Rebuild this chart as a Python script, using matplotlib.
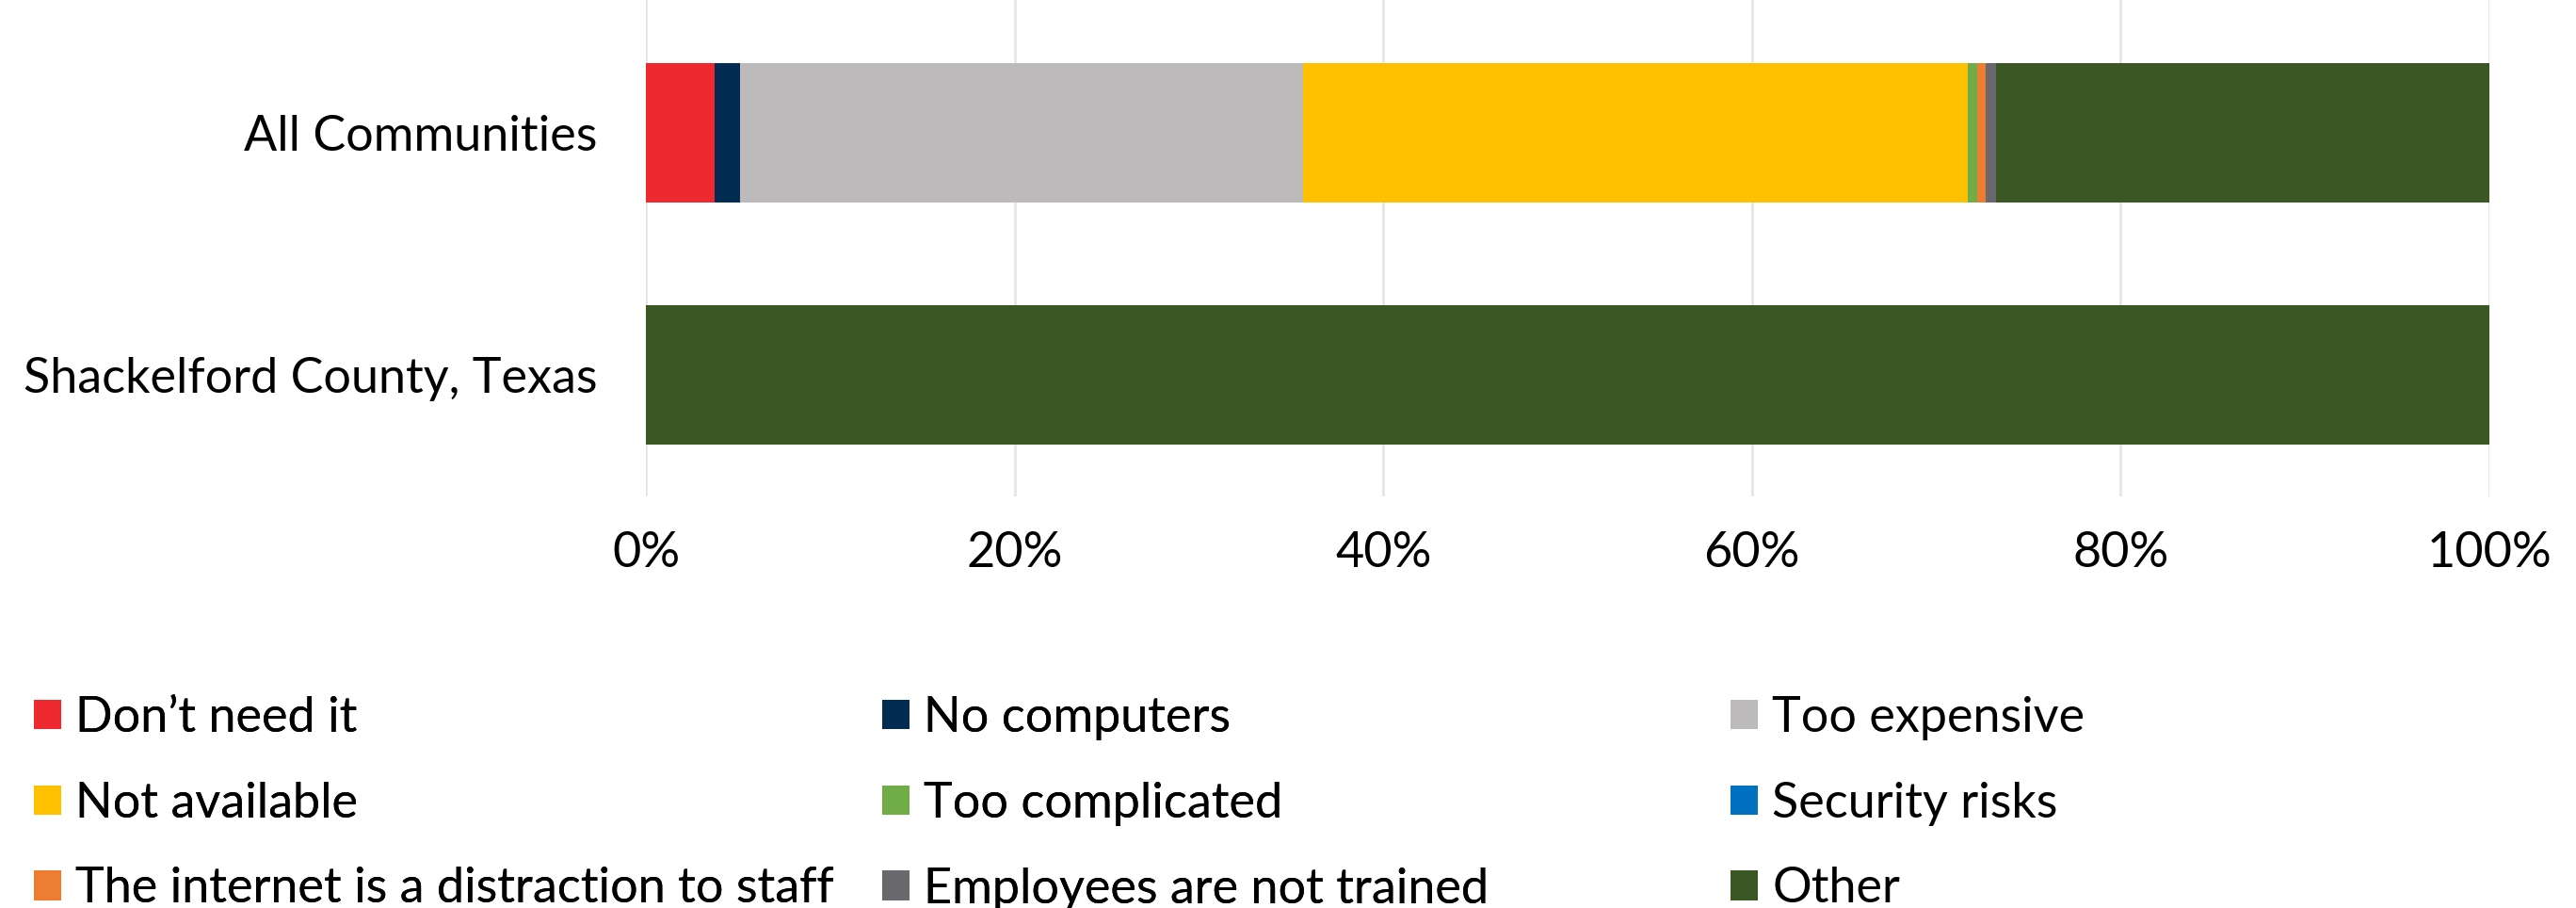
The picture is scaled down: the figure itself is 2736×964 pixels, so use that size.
import numpy as np
import matplotlib
matplotlib.use("Agg")
import matplotlib.pyplot as plt
from matplotlib.ticker import PercentFormatter

plt.rcParams['font.family'] = ['Lato', 'DejaVu Sans']
plt.rcParams['font.weight'] = 'normal'
plt.rcParams['text.color'] = 'black'
plt.rcParams['xtick.color'] = 'black'
plt.rcParams['ytick.color'] = 'black'

# data
communities = ["All Communities", "Shackelford County, Texas"]
reasons = ["Don\u2019t need it", "No computers", "Too expensive",
           "Not available", "Too complicated", "Security risks",
           "The internet is a distraction to staff", "Employees are not trained", "Other"]
all_communities = [3.74, 1.38, 30.54, 36.06, 0.51, 0.0, 0.46, 0.53, 26.78]
shackelford = [0, 0, 0, 0, 0, 0, 0, 0, 100]
colors = ["#EE292F", "#022C52", "#BCBABB", "#FFC000", "#70AD47",
          "#0070C0", "#ED7D31", "#69696D", "#3B5723"]
xticks = [0, 20, 40, 60, 80, 100]

fs = 37.5

fig = plt.figure(figsize=(27.36, 9.64), dpi=100)
ax = fig.add_axes([686/2736, 1-527/964, (2644-686)/2736, 527/964])

vals = np.array([all_communities, shackelford])
y = np.arange(len(communities))
left = np.zeros(len(communities))
handles = []
for i, name in enumerate(reasons):
    b = ax.barh(y, vals[:, i], left=left, height=0.576, color=colors[i], label=name, zorder=3)
    handles.append(b)
    left += vals[:, i]

ax.set_ylim(1.503, -0.547)
ax.set_xlim(0, 100)
ax.set_yticks(y)
ax.set_yticklabels(communities)
ax.set_xticks(xticks)
ax.xaxis.set_major_formatter(PercentFormatter(decimals=0))
ax.tick_params(axis='x', length=0, pad=27, labelsize=fs)
ax.tick_params(axis='y', length=0, pad=37, labelsize=fs)
ax.grid(axis='x', color='#E3E3E3', linewidth=1.8, zorder=0)
ax.grid(axis='y', visible=False)
for s in ax.spines.values():
    s.set_visible(False)

# legend laid out as a 3-column grid (row-major order)
col_x = [36, 937, 1838]
for c in range(3):
    h = handles[c::3]
    leg = fig.legend(h, [hh.get_label() for hh in h], loc='upper left',
                     bbox_to_anchor=(col_x[c]/2736, 1-739/964),
                     frameon=False, fontsize=fs, handlelength=0.557, handleheight=0.557,
                     handletextpad=0.29, labelspacing=0.84, borderpad=0, borderaxespad=0)
    if c < 2:
        fig.add_artist(leg)

fig.savefig("out.png", dpi=100)
